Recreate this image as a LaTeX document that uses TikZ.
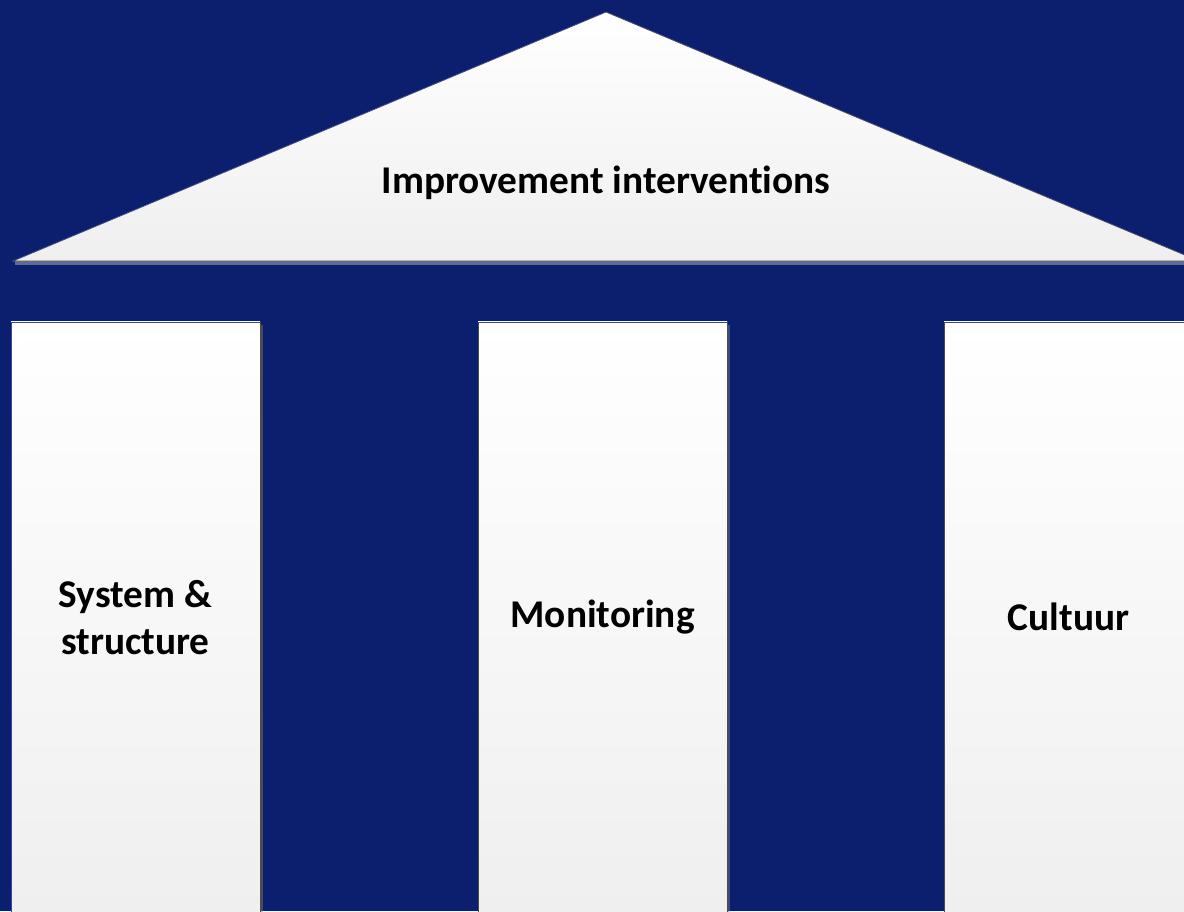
\documentclass[tikz,border=0pt]{standalone}
\usepackage{fontspec}
\setmainfont[Ligatures=NoCommon]{Carlito}
\usetikzlibrary{shadows}
\definecolor{navy}{RGB}{12,31,110}
\definecolor{paleside}{RGB}{239,239,239}
\definecolor{roofshade}{RGB}{92,106,160}

\begin{document}
\begin{tikzpicture}[x=0.75pt,y=-0.75pt]
			\tikzset{pillar/.style = {draw=gray!60!black, line width=0.6pt, top color=white, bottom color=paleside,
				minimum width=186.75pt, minimum height=443pt, inner sep=0pt, align=center,
				font=\fontsize{29.5}{35}\selectfont\bfseries,
				drop shadow={shadow xshift=2.5pt, shadow yshift=-2pt, opacity=0.45, fill=gray}}}
			\tikzset{roof/.style = {draw=gray!60!black, line width=0.6pt, top color=white, bottom color=paleside}}
			\tikzset{label/.style = {font=\fontsize{29.5}{35}\selectfont\bfseries}}

			\useasboundingbox (0,0) rectangle (1184,911);
			\clip (0,0) rectangle (1184,911);
			\fill[navy] (0,0) rectangle (1184,911);

			% roof
			\fill[roofshade] (15,261) rectangle (1199,265);
			\draw[roof] (13,261) -- (606,12) -- (1199,261) -- cycle;
			\node[label] (roof) at (606,183) {Improvement interventions};

			% pillars
			\node[pillar] (sys) at (135.5,617.3) {System \&\\ structure};
			\node[pillar] (mon) at (602.5,617.3) {Monitoring};
			\node[pillar] (cult) at (1068.5,617.3) {Cultuur};
		\end{tikzpicture}
\end{document}
